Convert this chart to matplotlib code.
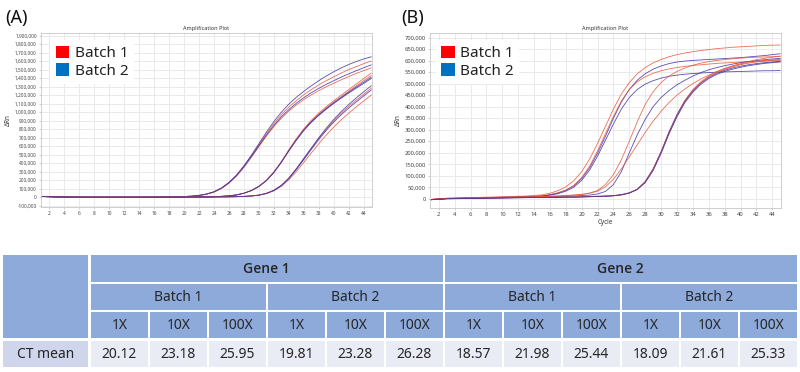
import matplotlib
matplotlib.use("Agg")
import matplotlib.pyplot as plt
from matplotlib.patches import Patch, Rectangle
from matplotlib.ticker import FuncFormatter
import numpy as np

plt.rcParams['font.family'] = ['Noto Sans', 'DejaVu Sans']

# cycles at which the curves were read: every 2nd cycle on the baseline, then every cycle
cycles = [1, 3, 5, 7, 9, 11, 13, 15,
          16, 17, 18, 19, 20, 21, 22, 23, 24, 25, 26, 27, 28, 29, 30,
          31, 32, 33, 34, 35, 36, 37, 38, 39, 40, 41, 42, 43, 44, 45]

# ---- panel A, gene 1, delta Rn in thousands ----
a_b1_1x_r1 = [9, 4, 1, 0, 0, 0, 0, 1,
              1, 2, 3, 5, 8, 12, 21, 36, 62, 105, 170, 255, 362, 485, 615,
              745, 865, 970, 1060, 1135, 1205, 1265, 1320, 1370, 1415, 1460, 1500, 1535, 1570, 1600]
a_b1_1x_r2 = [8, 4, 1, 0, 0, 0, 0, 1,
              1, 2, 3, 4, 7, 11, 20, 34, 60, 102, 165, 248, 352, 470, 595,
              718, 830, 928, 1012, 1085, 1148, 1203, 1253, 1298, 1340, 1380, 1418, 1455, 1488, 1520]
a_b2_1x_r1 = [10, 5, 1, 0, 0, 0, 0, 1,
              1, 2, 3, 5, 8, 13, 22, 38, 65, 110, 175, 260, 370, 495, 630,
              765, 890, 1000, 1095, 1175, 1245, 1310, 1370, 1425, 1475, 1520, 1560, 1595, 1625, 1650]
a_b2_1x_r2 = [9, 4, 1, 0, 0, 0, 0, 1,
              1, 2, 3, 5, 8, 12, 21, 36, 62, 105, 168, 252, 358, 478, 605,
              730, 845, 945, 1030, 1105, 1170, 1228, 1280, 1327, 1370, 1412, 1450, 1487, 1522, 1555]

a_b1_10x_r1 = [9, 4, 1, 0, 0, 0, 0, 0,
               0, 1, 1, 2, 2, 3, 4, 5, 7, 10, 16, 28, 48, 80, 130,
               200, 298, 420, 558, 688, 805, 905, 990, 1065, 1135, 1200, 1265, 1330, 1395, 1460]
a_b1_10x_r2 = [8, 4, 1, 0, 0, 0, 0, 0,
               0, 1, 1, 2, 2, 3, 4, 5, 7, 10, 16, 27, 47, 79, 128,
               198, 294, 415, 552, 680, 796, 893, 976, 1050, 1118, 1182, 1245, 1308, 1370, 1430]
a_b2_10x_r1 = [9, 4, 1, 0, 0, 0, 0, 0,
               0, 1, 1, 2, 2, 3, 4, 5, 7, 10, 16, 27, 46, 78, 126,
               195, 290, 410, 545, 670, 785, 880, 962, 1035, 1102, 1165, 1225, 1282, 1338, 1395]
a_b2_10x_r2 = [8, 4, 1, 0, 0, 0, 0, 0,
               0, 1, 1, 2, 2, 3, 4, 5, 7, 10, 16, 27, 46, 78, 127,
               196, 292, 412, 548, 675, 790, 886, 968, 1042, 1110, 1173, 1235, 1295, 1352, 1410]

a_b1_100x_r1 = [8, 4, 1, 0, 0, 0, 0, 0,
                0, 0, 1, 1, 1, 2, 2, 3, 3, 4, 5, 7, 10, 15, 25,
                45, 80, 138, 222, 330, 450, 570, 690, 800, 900, 988, 1068, 1142, 1212, 1280]
a_b1_100x_r2 = [8, 4, 1, 0, 0, 0, 0, 0,
                0, 0, 1, 1, 1, 2, 2, 3, 3, 4, 5, 6, 9, 14, 23,
                42, 75, 128, 205, 300, 410, 520, 630, 732, 825, 910, 988, 1062, 1132, 1200]
a_b2_100x_r1 = [9, 4, 1, 0, 0, 0, 0, 0,
                0, 0, 1, 1, 1, 2, 2, 3, 3, 4, 5, 7, 10, 15, 25,
                46, 82, 140, 226, 336, 458, 580, 700, 812, 915, 1007, 1090, 1168, 1240, 1310]
a_b2_100x_r2 = [9, 4, 1, 0, 0, 0, 0, 0,
                0, 0, 1, 1, 1, 2, 2, 3, 3, 4, 5, 7, 10, 15, 24,
                44, 79, 136, 219, 326, 444, 562, 679, 787, 884, 970, 1048, 1121, 1191, 1260]

# ---- panel B, gene 2, delta Rn in thousands ----
b_b1_1x_r1 = [-3, 2, 4, 6, 8, 10, 12, 17,
              24, 35, 52, 78, 118, 172, 240, 315, 390, 455, 505, 543, 570, 590, 605,
              617, 626, 633, 639, 644, 648, 652, 655, 658, 660, 662, 664, 666, 667, 668]
b_b1_1x_r2 = [-3, 2, 3, 5, 6, 8, 10, 13,
              18, 26, 38, 58, 92, 142, 208, 283, 358, 425, 475, 508, 530, 545, 556,
              564, 570, 575, 579, 582, 585, 588, 590, 592, 594, 596, 597, 598, 599, 600]
b_b2_1x_r1 = [-4, 1, 3, 4, 6, 7, 9, 12,
              17, 25, 37, 56, 88, 135, 198, 272, 350, 420, 475, 515, 543, 563, 577,
              587, 594, 598, 601, 603, 605, 607, 609, 611, 613, 616, 619, 622, 626, 630]
b_b2_1x_r2 = [-4, 1, 2, 3, 5, 6, 8, 11,
              16, 22, 33, 50, 80, 125, 185, 255, 325, 390, 440, 475, 498, 513, 524,
              532, 537, 541, 544, 546, 548, 550, 551, 552, 553, 554, 555, 556, 556, 557]

b_b1_10x_r1 = [-3, 2, 3, 4, 5, 6, 8, 10,
               11, 12, 14, 16, 19, 25, 36, 62, 105, 170, 250, 335, 410, 465, 505,
               533, 553, 568, 580, 589, 596, 601, 605, 608, 611, 613, 615, 616, 617, 618]
b_b1_10x_r2 = [-3, 2, 3, 4, 5, 6, 8, 10,
               11, 12, 14, 16, 19, 24, 33, 52, 85, 130, 182, 235, 288, 337, 380,
               418, 450, 477, 500, 520, 537, 552, 565, 577, 587, 596, 604, 610, 615, 620]
b_b2_10x_r1 = [-4, 1, 2, 3, 4, 5, 6, 8,
               9, 10, 11, 12, 14, 16, 21, 32, 62, 118, 200, 278, 345, 400, 440,
               470, 495, 515, 533, 548, 560, 570, 578, 585, 591, 596, 600, 604, 607, 610]

b_b1_100x_r1 = [-3, 1, 2, 3, 4, 5, 6, 7,
                7, 7, 8, 8, 9, 10, 11, 12, 14, 18, 26, 42, 75, 130, 205,
                290, 365, 428, 474, 508, 533, 552, 566, 577, 585, 592, 597, 601, 603, 605]
b_b1_100x_r2 = [-3, 1, 2, 3, 4, 5, 6, 7,
                7, 7, 8, 8, 9, 10, 11, 12, 14, 18, 26, 41, 72, 126, 200,
                285, 360, 422, 468, 503, 529, 548, 562, 573, 582, 589, 594, 598, 601, 603]
b_b2_100x_r1 = [-4, 0, 1, 2, 3, 4, 5, 6,
                6, 6, 7, 7, 8, 9, 10, 11, 13, 17, 25, 41, 74, 129, 204,
                290, 365, 425, 470, 503, 527, 545, 558, 568, 576, 582, 587, 591, 594, 597]
b_b2_100x_r2 = [-4, 0, 1, 2, 3, 4, 5, 6,
                6, 6, 7, 7, 8, 9, 10, 11, 13, 17, 25, 40, 70, 123, 197,
                282, 356, 418, 463, 497, 522, 540, 553, 563, 571, 578, 583, 588, 591, 594]

# ---- table ----
genes = ['Gene 1', 'Gene 2']
batches = ['Batch 1', 'Batch 2']
dilutions = ['1X', '10X', '100X']
row_label = 'CT mean'
ct_mean = [20.12, 23.18, 25.95, 19.81, 23.28, 26.28,
           18.57, 21.98, 25.44, 18.09, 21.61, 25.33]

RED = '#e4573d'
BLUE = '#3b2fa6'
LEG_RED = '#ff0000'
LEG_BLUE = '#0070c0'

panel_a = [(a_b1_1x_r1, RED), (a_b2_1x_r1, BLUE), (a_b1_1x_r2, RED), (a_b2_1x_r2, BLUE),
           (a_b1_10x_r1, RED), (a_b2_10x_r1, BLUE), (a_b1_10x_r2, RED), (a_b2_10x_r2, BLUE),
           (a_b1_100x_r1, RED), (a_b2_100x_r1, BLUE), (a_b1_100x_r2, RED), (a_b2_100x_r2, BLUE)]
panel_b = [(b_b1_1x_r1, RED), (b_b2_1x_r1, BLUE), (b_b1_1x_r2, RED), (b_b2_1x_r2, BLUE),
           (b_b1_10x_r1, RED), (b_b2_10x_r1, BLUE), (b_b1_10x_r2, RED),
           (b_b1_100x_r1, RED), (b_b2_100x_r1, BLUE), (b_b1_100x_r2, RED), (b_b2_100x_r2, BLUE)]

for vals, _ in panel_a + panel_b:
    assert len(vals) == len(cycles)


def style_axes(ax, ymax, ystep, ylim, tick_fs):
    ax.set_xlim(0.9, 45.1)
    ax.set_ylim(*ylim)
    ax.set_xticks(np.arange(2, 46, 2))
    ax.set_yticks(np.arange(0 if ylim[0] > -ystep else -ystep, ymax + 1, ystep))
    ax.yaxis.set_major_formatter(FuncFormatter(lambda v, p: f'{int(v):,}'))
    ax.grid(True, color='#e6e6e6', lw=0.6)
    ax.set_axisbelow(True)
    for s in ax.spines.values():
        s.set_color('#c8c8c8')
        s.set_linewidth(0.6)
    ax.tick_params(labelsize=tick_fs, length=1.5, width=0.4, color='#aaaaaa',
                   labelcolor='#444444', pad=1.5)
    ax.set_title('Amplification Plot', fontsize=4, color='#333333', pad=2)
    ax.set_ylabel('ΔRn', fontsize=4.5, color='#333333', labelpad=2)


def add_legend(ax, x0):
    handles = [Patch(facecolor=LEG_RED, edgecolor='none'),
               Patch(facecolor=LEG_BLUE, edgecolor='none')]
    leg = ax.legend(handles, batches, loc='upper left', bbox_to_anchor=(x0, 0.958),
                    fontsize=11, frameon=True, fancybox=False, edgecolor='none',
                    framealpha=1, borderaxespad=0, borderpad=0.35,
                    handlelength=0.9, handleheight=0.9, handletextpad=0.35,
                    labelspacing=0.12)
    for t in leg.get_texts():
        t.set_color('#222222')


fig = plt.figure(figsize=(8, 3.72), dpi=100)

# ---- amplification plot A ----
ax_a = fig.add_axes([41 / 800, 1 - 207 / 372, 331 / 800, 174 / 372])
for vals, col in panel_a:
    ax_a.plot(cycles, np.array(vals) * 1000, color=col, lw=0.6, alpha=0.85)
style_axes(ax_a, 1900000, 100000, (-115000, 1930000), 3.4)
add_legend(ax_a, 0.028)

# ---- amplification plot B ----
ax_b = fig.add_axes([430 / 800, 1 - 208 / 372, 351 / 800, 175 / 372])
for vals, col in panel_b:
    ax_b.plot(cycles, np.array(vals) * 1000, color=col, lw=0.6, alpha=0.85)
style_axes(ax_b, 700000, 50000, (-40000, 720000), 4.2)
ax_b.set_xlabel('Cycle', fontsize=4.5, color='#333333', labelpad=1.5)
add_legend(ax_b, 0.016)

fig.text(0.006, 0.975, '(A)', fontsize=13, va='top', ha='left', color='#111111')
fig.text(0.501, 0.975, '(B)', fontsize=13, va='top', ha='left', color='#111111')

# ---- table ----
HEAD = '#8eaadb'
LABEL = '#cfd5ea'
CELL = '#e9ebf5'
TXT = '#262626'

ax_t = fig.add_axes([0, 0, 1, 122 / 372])
ax_t.set_xlim(0, 800)
ax_t.set_ylim(372, 250)
ax_t.axis('off')

rows_y = [(255.0, 281.7), (284.0, 310.0), (312.3, 338.3), (340.7, 367.3)]
left, first_r = 2.7, 88.3
col0, pitch, gap = 91.0, 59.0, 2.3


def cell(x0, x1, r0, r1, color, text='', bold=False):
    ax_t.add_patch(Rectangle((x0, r0), x1 - x0, r1 - r0, facecolor=color, edgecolor='none'))
    if text:
        fam = ['Open Sans', 'DejaVu Sans'] if bold else ['Noto Sans', 'DejaVu Sans']
        ax_t.text((x0 + x1) / 2, (r0 + r1) / 2 + 0.5, text, ha='center', va='center',
                  fontsize=10, color=TXT, family=fam,
                  fontweight='semibold' if bold else 'normal')


cell(left, first_r, rows_y[0][0], rows_y[2][1], HEAD)
cell(left, first_r, rows_y[3][0], rows_y[3][1], LABEL, row_label)
ncol = len(genes) * len(batches) * len(dilutions)
for g, gene in enumerate(genes):
    span = len(batches) * len(dilutions)
    x0 = col0 + g * span * pitch
    cell(x0, x0 + span * pitch - gap, *rows_y[0], HEAD, gene, bold=True)
    for b, batch in enumerate(batches):
        bx = x0 + b * len(dilutions) * pitch
        cell(bx, bx + len(dilutions) * pitch - gap, *rows_y[1], HEAD, batch)
for i in range(ncol):
    x0 = col0 + i * pitch
    cell(x0, x0 + pitch - gap, *rows_y[2], HEAD, dilutions[i % len(dilutions)])
    cell(x0, x0 + pitch - gap, *rows_y[3], CELL, f'{ct_mean[i]:.2f}')

fig.savefig('out.png', dpi=100)
